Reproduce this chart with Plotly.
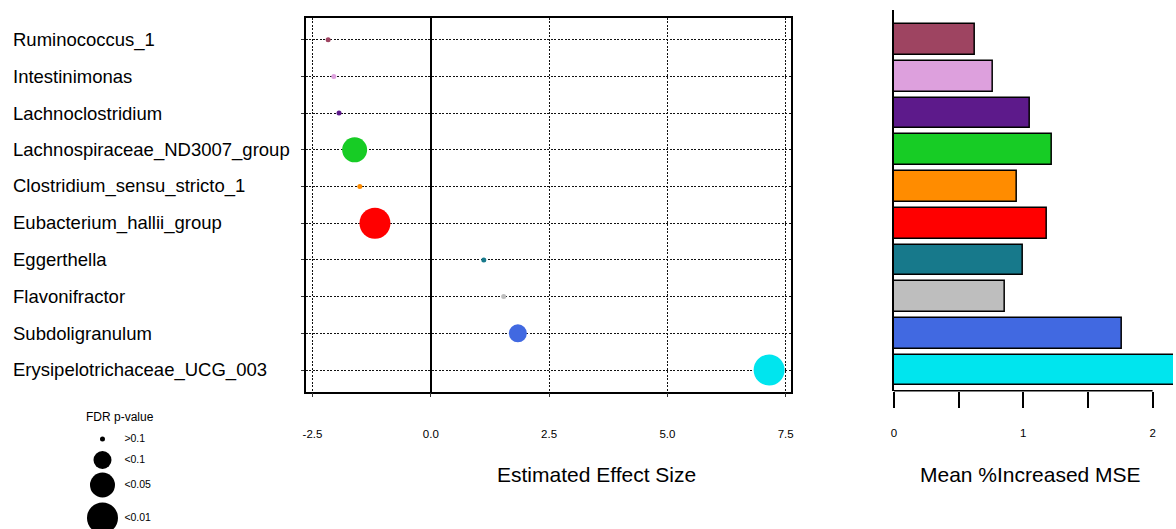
import plotly.graph_objects as go

W, H = 1176, 529

taxa = ["Ruminococcus_1", "Intestinimonas", "Lachnoclostridium", "Lachnospiraceae_ND3007_group",
        "Clostridium_sensu_stricto_1", "Eubacterium_hallii_group", "Eggerthella", "Flavonifractor",
        "Subdoligranulum", "Erysipelotrichaceae_UCG_003"]
effect_size = [-2.17, -2.05, -1.94, -1.61, -1.50, -1.18, 1.12, 1.54, 1.84, 7.15]
fdr_class = [">0.1", ">0.1", ">0.1", "<0.05", ">0.1", "<0.01", ">0.1", ">0.1", "<0.1", "<0.01"]
mse_increase = [0.628, 0.762, 1.049, 1.223, 0.952, 1.185, 0.995, 0.862, 1.762, 2.40]
colors = ["#9E4461", "#DDA0DD", "#5D1A8B", "#17CC25", "#FF8C00", "#FF0000", "#17798B",
          "#BEBEBE", "#4169E1", "#00E5EE"]

legend_classes = [">0.1", "<0.1", "<0.05", "<0.01"]
effect_ticks = [-2.5, 0.0, 2.5, 5.0, 7.5]
effect_ticktext = ["-2.5", "0.0", "2.5", "5.0", "7.5"]
mse_ticks = [0, 0.5, 1, 1.5, 2]
mse_ticktext = ["0", "", "1", "", "2"]

# style: marker size per FDR class
size_map = {">0.1": 5, "<0.1": 18, "<0.05": 25, "<0.01": 31}

FONT = "Liberation Sans, Arial, sans-serif"
rows = list(range(1, len(taxa) + 1))

def px_x(p):
    return p / W

def px_y(p):
    return 1 - p / H

fig = go.Figure()

# forest plot
fig.add_trace(go.Scatter(
    x=effect_size, y=rows, mode="markers",
    marker=dict(color=colors, size=[size_map[c] for c in fdr_class], opacity=1, line=dict(width=0)),
    xaxis="x", yaxis="y", showlegend=False, hoverinfo="skip"))

# bar plot
fig.add_trace(go.Bar(
    x=mse_increase, y=rows, orientation="h", width=0.835,
    marker=dict(color=colors, line=dict(color="black", width=1.5)),
    xaxis="x2", yaxis="y2", showlegend=False, hoverinfo="skip"))

# size legend
legend_y = [439, 460, 485, 518]
fig.add_trace(go.Scatter(
    x=[100] * len(legend_classes), y=legend_y, mode="markers",
    marker=dict(color="black", size=[size_map[c] for c in legend_classes], opacity=1, line=dict(width=0)),
    xaxis="x3", yaxis="y3", showlegend=False, hoverinfo="skip", cliponaxis=False))
fig.add_trace(go.Scatter(
    x=[122] * len(legend_classes), y=legend_y, mode="text",
    text=legend_classes, textposition="middle right",
    textfont=dict(size=10.5, color="black", family=FONT),
    xaxis="x3", yaxis="y3", showlegend=False, hoverinfo="skip", cliponaxis=False))

y_top_f, y_bot_f = 17.7, 391.7
row_px0, row_step = 39.7, 36.7
y_range_f = [10 + (y_bot_f - (row_px0 + 9 * row_step)) / row_step,
             1 - (row_px0 - y_top_f) / row_step]

y_top_b, y_bot_b = 10, 390.7
y_range_b = [10 + (y_bot_b - (row_px0 + 9 * row_step)) / row_step,
             1 - (row_px0 - y_top_b) / row_step]

x_l, x_r = 304.3, 791.7
x0px, unit = 430.0, 47.56
x_range_f = [(x_l - x0px) / unit, (x_r - x0px) / unit]

bx0, bunit = 895.5, 130.0
x_range_b = [0, (W - bx0) / bunit]

fig.update_layout(
    width=W, height=H, margin=dict(l=0, r=0, t=0, b=0),
    paper_bgcolor="white", plot_bgcolor="white",
    font=dict(family=FONT, color="black"),
    bargap=0,
    xaxis=dict(domain=[px_x(x_l), px_x(x_r)], range=x_range_f,
               tickvals=effect_ticks, ticktext=effect_ticktext,
               tickfont=dict(size=11.5, color="black"), ticks="outside", ticklen=4, tickcolor="#333",
               ticklabelstandoff=27,
               showgrid=True, gridcolor="#111", griddash="2px,1.5px", gridwidth=1,
               zeroline=True, zerolinecolor="black", zerolinewidth=2,
               showline=True, linecolor="black", linewidth=1.5, mirror=True),
    yaxis=dict(domain=[px_y(y_bot_f), px_y(y_top_f)], range=y_range_f,
               tickvals=rows, showticklabels=False, ticks="outside", ticklen=3, tickcolor="#333",
               showgrid=True, gridcolor="#111", griddash="2px,1.5px", gridwidth=1, zeroline=False,
               showline=True, linecolor="black", linewidth=1.5, mirror=True),
    xaxis2=dict(domain=[px_x(bx0), 1.0], range=x_range_b, anchor="y2",
                tickvals=mse_ticks, ticktext=mse_ticktext, tickfont=dict(size=11.5, color="black"),
                ticks="outside", ticklen=16, tickwidth=1.5, tickcolor="black",
                ticklabelstandoff=15,
                showgrid=False, zeroline=False, showline=False),
    yaxis2=dict(domain=[px_y(y_bot_b), px_y(y_top_b)], range=y_range_b, anchor="x2",
                showticklabels=False, ticks="", showgrid=False, zeroline=False,
                showline=True, linecolor="black", linewidth=1.5),
    xaxis3=dict(domain=[0, 0.25], range=[0, 0.25 * W], visible=False, anchor="y3"),
    yaxis3=dict(domain=[0, 0.25], range=[H, H - 0.25 * H], visible=False, anchor="x3"),
)

# x2 axis line spanning ticks only
fig.add_shape(type="line", xref="x2", yref="paper",
              x0=mse_ticks[0], x1=mse_ticks[-1], y0=px_y(y_bot_b), y1=px_y(y_bot_b),
              line=dict(color="black", width=1.5))

annotations = []
for name, r in zip(taxa, rows):
    annotations.append(dict(text=name, xref="paper", yref="y", x=px_x(8), y=r,
                            xanchor="left", yanchor="middle", showarrow=False,
                            font=dict(size=18.5, color="black", family=FONT)))
annotations.append(dict(text="Estimated Effect Size", xref="paper", yref="paper",
                        x=px_x(597), y=px_y(474), xanchor="center", yanchor="middle",
                        showarrow=False, font=dict(size=21, color="black", family=FONT)))
annotations.append(dict(text="Mean %Increased MSE", xref="paper", yref="paper",
                        x=px_x(1033), y=px_y(474), xanchor="center", yanchor="middle",
                        showarrow=False, font=dict(size=21, color="black", family=FONT)))
annotations.append(dict(text="FDR p-value", xref="paper", yref="paper",
                        x=px_x(118), y=px_y(417), xanchor="center", yanchor="middle",
                        showarrow=False, font=dict(size=12, color="black", family=FONT)))
fig.update_layout(annotations=annotations)

fig.write_html("out.html")
